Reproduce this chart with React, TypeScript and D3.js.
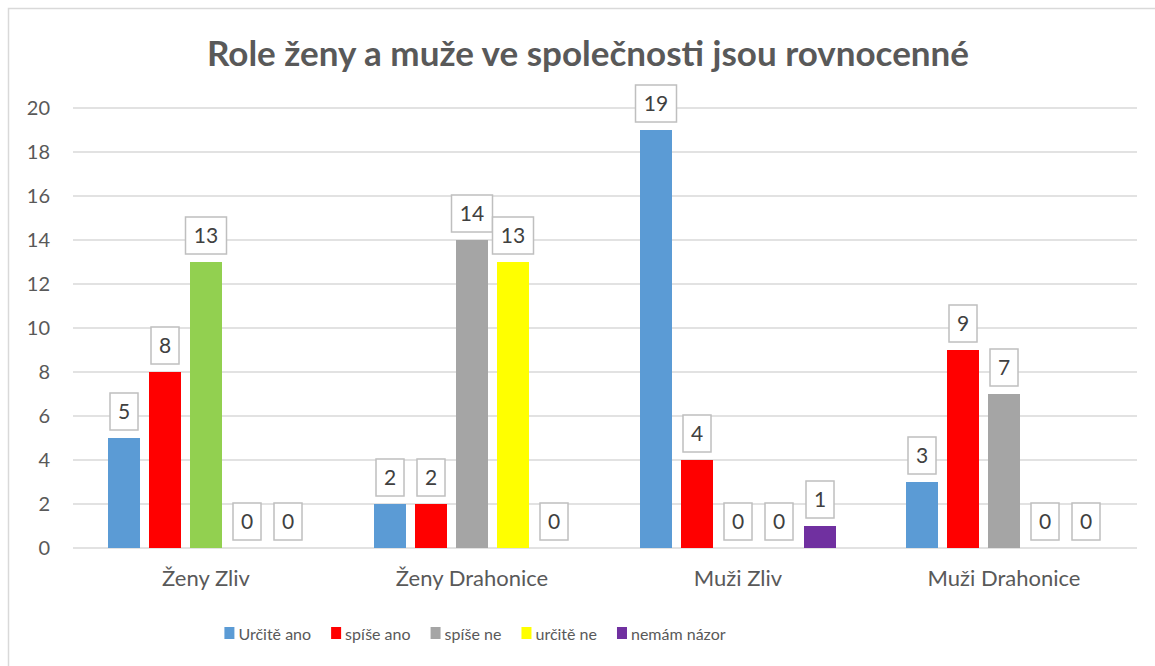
import React, { useEffect, useRef } from "react";
import * as d3 from "d3";

const categories = ["Ženy Zliv", "Ženy Drahonice", "Muži Zliv", "Muži Drahonice"];
const seriesNames = ["Určitě ano", "spíše ano", "spíše ne", "určitě ne", "nemám názor"];
const urciteAno = [5, 2, 19, 3];
const spiseAno = [8, 2, 4, 9];
const spiseNe = [13, 14, 0, 7];
const urciteNe = [0, 13, 0, 0];
const nemamNazor = [0, 0, 1, 0];
const seriesColors = ["#5b9bd5", "#ff0000", "#a5a5a5", "#ffff00", "#7030a0"];
// Excel point override: "spíše ne" for Ženy Zliv is drawn green
const pointOverrides = [{ series: 2, category: 0, color: "#92d050" }];
const yTicks = [0, 2, 4, 6, 8, 10, 12, 14, 16, 18, 20];

const W = 1155;
const H = 666;
const FONT = "Lato, 'Open Sans', sans-serif";

const App = () => {
  const svgRef = useRef<SVGSVGElement>(null);

  useEffect(() => {
    const svg = d3.select(svgRef.current);
    svg.selectAll("*").remove();

    const values = [urciteAno, spiseAno, spiseNe, urciteNe, nemamNazor];
    const left = 73, right = 1137, top = 108, bottom = 548;

    svg.append("rect")
      .attr("x", 8.5).attr("y", 8.5)
      .attr("width", 1150).attr("height", 670)
      .attr("fill", "#fff")
      .attr("stroke", "#d9d9d9")
      .attr("stroke-width", 1.5);

    svg.append("text")
      .attr("x", 588).attr("y", 66)
      .attr("text-anchor", "middle")
      .attr("font-family", FONT)
      .attr("font-weight", "bold")
      .attr("font-size", 35)
      .attr("fill", "#595959")
      .text("Role ženy a muže ve společnosti jsou rovnocenné");

    const y = d3.scaleLinear().domain([0, 20]).range([bottom, top]);
    const x0 = d3.scaleBand<string>()
      .domain(categories)
      .range([left, right])
      .paddingInner(70 / 266)
      .paddingOuter(35 / 266);
    const x1 = d3.scaleBand<number>()
      .domain(d3.range(seriesNames.length))
      .range([0, x0.bandwidth()])
      .paddingInner(9 / 41)
      .paddingOuter(0);

    // gridlines + tick labels
    svg.append("g")
      .selectAll("line")
      .data(yTicks)
      .join("line")
      .attr("x1", left).attr("x2", right)
      .attr("y1", (d) => y(d)).attr("y2", (d) => y(d))
      .attr("stroke", "#d9d9d9")
      .attr("stroke-width", 1.3);

    svg.append("g")
      .selectAll("text")
      .data(yTicks)
      .join("text")
      .attr("x", 50)
      .attr("y", (d) => y(d))
      .attr("dy", "0.36em")
      .attr("text-anchor", "end")
      .attr("font-family", FONT)
      .attr("font-size", 20)
      .attr("fill", "#595959")
      .text((d) => d);

    const points = categories.flatMap((c, ci) =>
      values.map((vals, si) => {
        const ov = pointOverrides.find((o) => o.series === si && o.category === ci);
        return { c, ci, si, v: vals[ci], color: ov ? ov.color : seriesColors[si] };
      })
    );

    svg.append("g")
      .selectAll("rect")
      .data(points.filter((p) => p.v > 0))
      .join("rect")
      .attr("x", (d) => (x0(d.c) as number) + (x1(d.si) as number))
      .attr("y", (d) => y(d.v))
      .attr("width", x1.bandwidth())
      .attr("height", (d) => y(0) - y(d.v))
      .attr("fill", (d) => d.color);

    // data labels in boxes
    const lbl = svg.append("g")
      .selectAll("g")
      .data(points)
      .join("g")
      .attr("transform", (d) =>
        `translate(${(x0(d.c) as number) + (x1(d.si) as number) + x1.bandwidth() / 2},${y(d.v) - 8})`);

    lbl.append("rect")
      .attr("x", (d) => -(String(d.v).length === 1 ? 14 : 20.5))
      .attr("y", -37)
      .attr("width", (d) => (String(d.v).length === 1 ? 28 : 41))
      .attr("height", 37)
      .attr("fill", "#fff")
      .attr("stroke", "#bfbfbf")
      .attr("stroke-width", 1.5);

    lbl.append("text")
      .attr("x", 0)
      .attr("y", -18.5)
      .attr("dy", "0.36em")
      .attr("text-anchor", "middle")
      .attr("font-family", FONT)
      .attr("font-size", 21)
      .attr("fill", "#404040")
      .text((d) => d.v);

    // category labels
    svg.append("g")
      .selectAll("text")
      .data(categories)
      .join("text")
      .attr("x", (d) => (x0(d) as number) + x0.bandwidth() / 2)
      .attr("y", 586)
      .attr("text-anchor", "middle")
      .attr("font-family", FONT)
      .attr("font-size", 22)
      .attr("fill", "#595959")
      .text((d) => d);

    // legend, centred
    const leg = svg.append("g");
    const items = leg.selectAll("g")
      .data(seriesNames)
      .join("g");
    items.append("rect")
      .attr("x", 0).attr("y", 627)
      .attr("width", 10).attr("height", 12)
      .attr("fill", (d, i) => seriesColors[i]);
    items.append("text")
      .attr("x", 14).attr("y", 640)
      .attr("font-family", FONT)
      .attr("font-size", 16)
      .attr("fill", "#595959")
      .text((d) => d);

    const widths: number[] = [];
    items.each(function () {
      const t = d3.select(this).select("text").node() as SVGTextElement;
      widths.push(14 + t.getComputedTextLength());
    });
    const gap = 20;
    const total = d3.sum(widths) + gap * (widths.length - 1);
    let cx = 475 - total / 2;
    items.attr("transform", (d, i) => {
      const tx = cx;
      cx += widths[i] + gap;
      return `translate(${tx},0)`;
    });
  }, []);

  return <svg ref={svgRef} width={W} height={H} style={{ position: "absolute", left: 0, top: 0 }} />;
};

export default App;
